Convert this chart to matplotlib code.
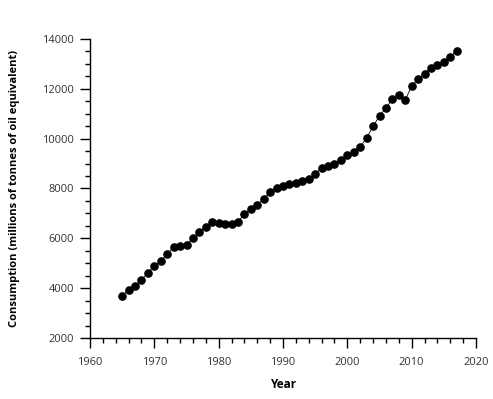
import matplotlib
matplotlib.use("Agg")
import matplotlib.pyplot as plt
from matplotlib.ticker import MultipleLocator

plt.rcParams['font.family'] = ['Open Sans', 'DejaVu Sans']

years = list(range(1965, 2018))
consumption = [3700, 3928, 4089, 4330, 4611, 4893, 5094, 5363, 5656, 5696,
               5736, 6018, 6259, 6472, 6673, 6620, 6568, 6572, 6673, 6970,
               7171, 7356, 7585, 7854, 8014, 8119, 8199, 8227, 8320, 8400,
               8589, 8818, 8898, 8979, 9139, 9344, 9465, 9662, 10035, 10489,
               10919, 11229, 11590, 11763, 11550, 12113, 12394, 12607, 12848, 12968,
               13077, 13290, 13519]

fig = plt.figure(figsize=(4.93, 3.99), dpi=100)
ax = fig.add_axes([90/493, 1-338/399, (476-90)/493, (338-39)/399])
ax.plot(years, consumption, color='black', linewidth=0.6, marker='o',
        markersize=5.2, markerfacecolor='black', markeredgecolor='black')

ax.set_xlim(1960, 2020)
ax.set_ylim(2000, 14000)
ax.xaxis.set_major_locator(MultipleLocator(10))
ax.xaxis.set_minor_locator(MultipleLocator(2))
ax.yaxis.set_major_locator(MultipleLocator(2000))
ax.yaxis.set_minor_locator(MultipleLocator(500))
for s in ['top', 'right']:
    ax.spines[s].set_visible(False)
for s in ['left', 'bottom']:
    ax.spines[s].set_linewidth(1.0)
ax.tick_params(which='major', length=7, width=1.0, labelsize=8, colors='black')
ax.tick_params(which='minor', length=3.5, width=1.0)
ax.tick_params(axis='x', which='major', pad=7)
ax.tick_params(axis='y', which='major', pad=4.5)
for lab in ax.get_xticklabels() + ax.get_yticklabels():
    lab.set_color('#333333')

ax.set_xlabel('Year', fontsize=8.5, fontweight='bold', labelpad=7)
ax.set_ylabel('Consumption (millions of tonnes of oil equivalent)', fontsize=8,
              fontweight='bold', labelpad=16)

fig.savefig('out.png', dpi=100)
